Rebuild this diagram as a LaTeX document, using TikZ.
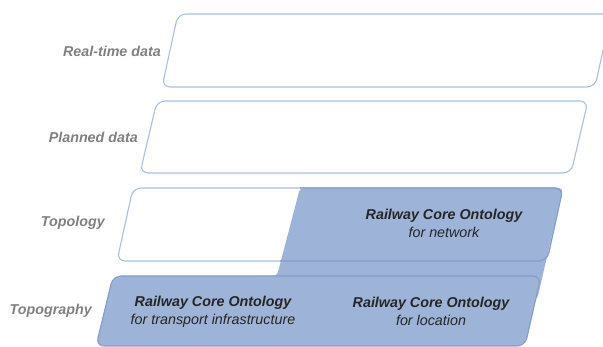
\documentclass[tikz,border=0pt]{standalone}
\usepackage{fontspec}
\setmainfont{Liberation Sans}
\usepackage{xcolor}
\usepackage{tikz}
\usetikzlibrary{positioning}
\definecolor{xsky}{RGB}{169,192,226}
\definecolor{xsteel}{RGB}{157,179,216}
\definecolor{xsteeldark}{RGB}{132,157,203}
\definecolor{xgrey}{RGB}{128,128,128}

\begin{document}
\begin{tikzpicture}[
  x=1pt, y=-1pt,
  layer/.style={draw=xsky, line width=1.1pt, fill=white, rounded corners=8pt},
  core/.style={draw=xsteeldark, line width=1.1pt, fill=xsteel, rounded corners=8pt},
  lbl/.style={anchor=east, text=xgrey, font=\fontsize{14.3}{17}\selectfont\bfseries\itshape, inner sep=0pt},
  onto/.style={align=center, font=\fontsize{14.3}{18}\selectfont\itshape, text=black!85, inner sep=0pt}
]
  \useasboundingbox (0,0) rectangle (603,347);

  % Layers
  \draw[layer] (178,14) -- (611,14) -- (595,87) -- (162,87) -- cycle;
  \draw[layer] (157,101) -- (588,101) -- (571,173) -- (140,173) -- cycle;
  \draw[layer] (133,188) -- (563,188) -- (547,261) -- (117,261) -- cycle;

  % Core ontology for network reaches down into the topography layer
  \fill[xsteel, rounded corners=4pt] (300,188) -- (563,188) -- (537,300) -- (250,300)
    -- (250,276) -- (277,276) -- cycle;
  \draw[core] (113,276) -- (541,276) -- (525,346) -- (96,346) -- cycle;
  \draw[draw=xsteeldark, line width=1.1pt, rounded corners=8pt]
    (300,188) -- (563,188) -- (547,261) -- (280,261);

  \node[lbl] (realtime) at (161,51)  {Real-time data};
  \node[lbl] (planned)  at (138,137) {Planned data};
  \node[lbl] (topology) at (105,223) {Topology};
  \node[lbl] (topogr)   at (92,311)  {Topography};

  \node[onto] (network)   at (444,223)   {\textbf{Railway Core Ontology}\\ for network};
  \node[onto] (transport) at (213,311.5) {\textbf{Railway Core Ontology}\\ for transport infrastructure};
  \node[onto] (location)  at (431,311.5) {\textbf{Railway Core Ontology}\\ for location};
\end{tikzpicture}
\end{document}
